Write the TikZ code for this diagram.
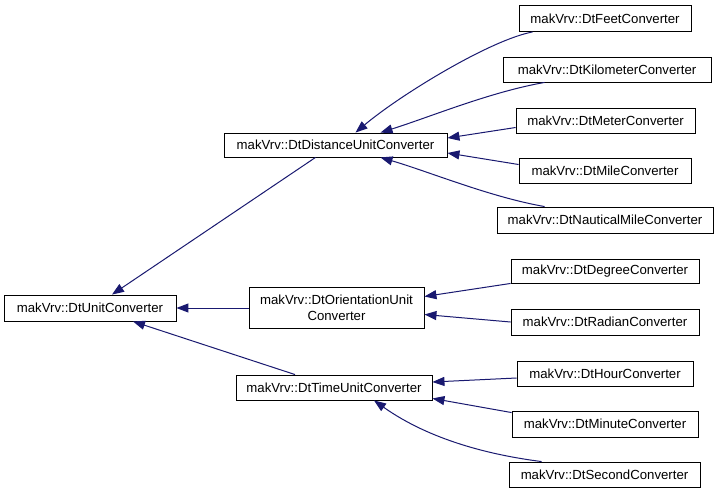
\documentclass[tikz,border=0pt]{standalone}
\usepackage{fontspec}
\setmainfont{Liberation Sans}
\usetikzlibrary{arrows.meta}
\definecolor{edgeblue}{HTML}{191970}
\begin{document}
\begin{tikzpicture}[x=1pt,y=-1pt,
  cls/.style={draw=black,line width=0.9pt,fill=white,inner sep=0pt,align=center,
    font=\fontsize{13.2}{16}\selectfont},
  inh/.style={draw=edgeblue,line width=1pt,-{Triangle[length=12pt,width=9pt]},edgeblue}]
\useasboundingbox[fill=white] (0,0) rectangle (720,493);
% nodes
\node[cls,minimum width=172pt,minimum height=26pt] (unit) at (90,308) {makVrv::DtUnitConverter};
\node[cls,minimum width=223pt,minimum height=24pt] (dist) at (335.5,145) {makVrv::DtDistanceUnitConverter};
\node[cls,minimum width=175pt,minimum height=41pt] (orient) at (336.5,308) {makVrv::DtOrientationUnit\\Converter};
\node[cls,minimum width=196pt,minimum height=25pt] (time) at (334,387.5) {makVrv::DtTimeUnitConverter};
\node[cls,minimum width=172pt,minimum height=26pt] (feet) at (605,18.5) {makVrv::DtFeetConverter};
\node[cls,minimum width=208pt,minimum height=25pt] (km) at (607,69.5) {makVrv::DtKilometerConverter};
\node[cls,minimum width=179pt,minimum height=25pt] (meter) at (605.5,120.5) {makVrv::DtMeterConverter};
\node[cls,minimum width=172pt,minimum height=25pt] (mile) at (605,170.5) {makVrv::DtMileConverter};
\node[cls,minimum width=216pt,minimum height=26pt] (naut) at (605,220) {makVrv::DtNauticalMileConverter};
\node[cls,minimum width=188pt,minimum height=24pt] (deg) at (605,271) {makVrv::DtDegreeConverter};
\node[cls,minimum width=188pt,minimum height=26pt] (rad) at (605,322) {makVrv::DtRadianConverter};
\node[cls,minimum width=176pt,minimum height=25pt] (hour) at (605,373.5) {makVrv::DtHourConverter};
\node[cls,minimum width=186pt,minimum height=26pt] (minute) at (605,424) {makVrv::DtMinuteConverter};
\node[cls,minimum width=191pt,minimum height=25pt] (second) at (604.5,474.5) {makVrv::DtSecondConverter};
% edges
\draw[inh] ([xshift=-20pt]dist.south) -- ([xshift=22pt]unit.north);
\draw[inh] (orient.west) -- (unit.east);
\draw[inh] ([xshift=-39pt]time.north) -- ([xshift=43pt]unit.south);
\draw[inh] ([xshift=14pt]feet.south west) .. controls (490,40) and (400,95) .. ([xshift=20pt]dist.north);
\draw[inh] ([xshift=42pt]km.south west) .. controls (490,92) and (430,117) .. ([xshift=45pt]dist.north);
\draw[inh] ([yshift=-7pt]meter.west) -- ([yshift=7pt]dist.east);
\draw[inh] ([yshift=6pt]mile.west) -- ([yshift=-8pt]dist.east);
\draw[inh] ([xshift=48pt]naut.north west) .. controls (490,197) and (430,172) .. ([xshift=45pt]dist.south);
\draw[inh] (deg.south west) -- ([yshift=11.5pt]orient.east);
\draw[inh] (rad.west) -- ([yshift=-6.5pt]orient.east);
\draw[inh] ([yshift=-4.5pt]hour.west) -- ([yshift=5.5pt]time.east);
\draw[inh] ([yshift=-2pt]minute.north west) -- ([yshift=2pt]time.south east);
\draw[inh] ([xshift=33pt]second.north west) .. controls (490,455) and (430,440) .. ([xshift=40pt]time.south);
\end{tikzpicture}
\end{document}
